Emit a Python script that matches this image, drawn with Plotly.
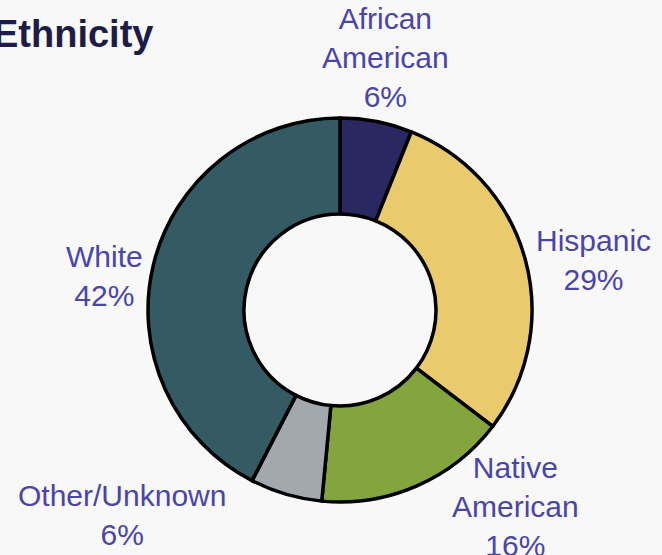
import plotly.graph_objects as go

W, H = 662, 555

groups = ["African<br>American", "Hispanic", "Native<br>American", "Other/Unknown", "White"]
shares = [6, 29, 16, 6, 42]
colors = ["#2a2860", "#e9ca6c", "#84a43e", "#a1a8ae", "#345b64"]

# label block centres in pixels (placed by hand like the original)
label_pos = [(385, 57), (593, 260), (515, 506), (122, 515), (104, 276)]

fig = go.Figure(go.Pie(
    labels=groups,
    values=shares,
    sort=False,
    direction="clockwise",
    rotation=0,
    hole=0.5,
    marker={"colors": colors, "line": {"color": "black", "width": 3.5}},
    textinfo="none",
    hoverinfo="label+percent",
    domain={"x": [148 / W, 532 / W], "y": [(H - 503) / H, (H - 117) / H]},
    showlegend=False,
))

for name, v, (px_, py_) in zip(groups, shares, label_pos):
    fig.add_annotation(
        text=f"{name}<br>{v}%",
        x=px_ / W, y=1 - py_ / H, xref="paper", yref="paper",
        xanchor="center", yanchor="middle", showarrow=False,
        font={"family": "Liberation Sans, Arial", "size": 30, "color": "#4a45a8"},
    )

fig.add_annotation(
    text="<b>Ethnicity</b>",
    x=-9 / W, y=1 - 34 / H, xref="paper", yref="paper",
    xanchor="left", yanchor="middle", showarrow=False,
    font={"family": "Liberation Sans, Arial", "size": 38, "color": "#1e1c46"},
)

fig.update_layout(
    width=W, height=H,
    margin={"l": 0, "r": 0, "t": 0, "b": 0},
    paper_bgcolor="#f8f8f8",
    plot_bgcolor="#f8f8f8",
)

fig.write_html("out.html", config={"displayModeBar": False},
               post_script="document.body.style.margin='0';document.body.style.background='#f8f8f8';")
